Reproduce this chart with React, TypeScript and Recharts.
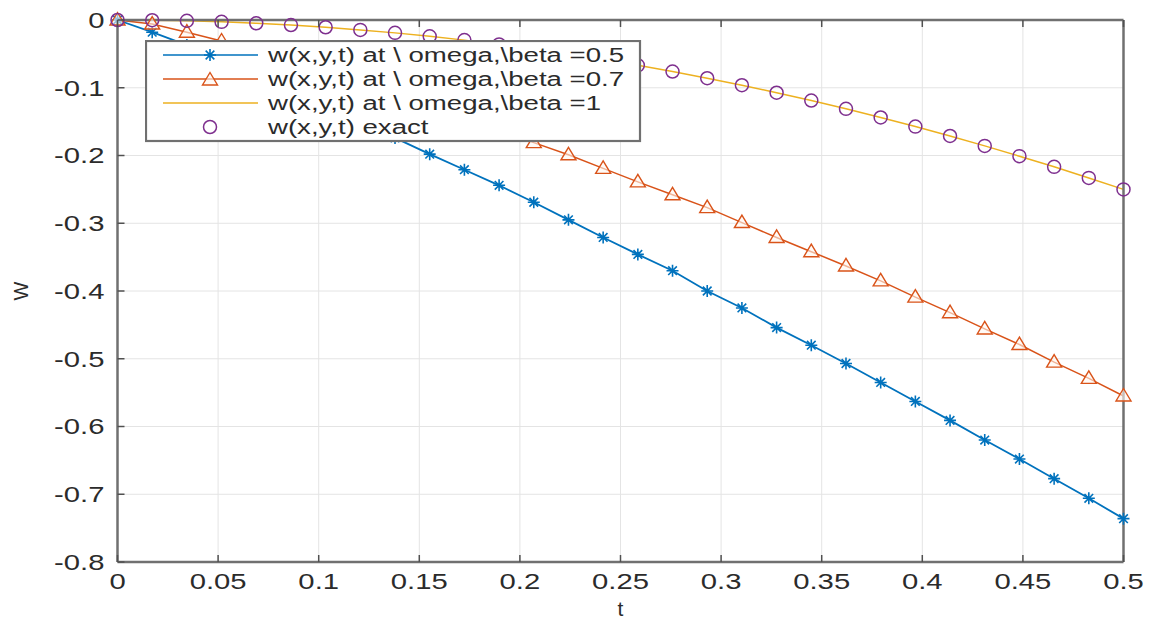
import { CartesianGrid, Legend, Line, LineChart, XAxis, YAxis } from "recharts";

// t = linspace(0, 0.5, 30)
const tValues = [
  0, 0.01724, 0.03448, 0.05172, 0.06897, 0.08621, 0.10345, 0.12069, 0.13793, 0.15517,
  0.17241, 0.18966, 0.2069, 0.22414, 0.24138, 0.25862, 0.27586, 0.2931, 0.31034, 0.32759,
  0.34483, 0.36207, 0.37931, 0.39655, 0.41379, 0.43103, 0.44828, 0.46552, 0.48276, 0.5,
];

const wBeta05 = [
  0, -0.018, -0.037, -0.058, -0.08, -0.103, -0.126, -0.15, -0.174, -0.198,
  -0.221, -0.244, -0.269, -0.295, -0.321, -0.346, -0.37, -0.4, -0.425, -0.454,
  -0.48, -0.507, -0.535, -0.563, -0.591, -0.62, -0.648, -0.677, -0.706, -0.736,
];

const wBeta07 = [
  0, -0.006, -0.018, -0.031, -0.044, -0.059, -0.074, -0.09, -0.107, -0.125,
  -0.143, -0.161, -0.181, -0.199, -0.219, -0.239, -0.258, -0.277, -0.299, -0.321,
  -0.342, -0.363, -0.385, -0.409, -0.432, -0.456, -0.479, -0.505, -0.529, -0.555,
];

const wBeta1 = [
  0, -0.0003, -0.0012, -0.0027, -0.0048, -0.0074, -0.0107, -0.0146, -0.019, -0.0241,
  -0.0297, -0.036, -0.0428, -0.0502, -0.0583, -0.0669, -0.0761, -0.0859, -0.0963, -0.1073,
  -0.1189, -0.1311, -0.1439, -0.1573, -0.1712, -0.1858, -0.201, -0.2167, -0.2331, -0.25,
];

const wExact = [
  0, -0.0003, -0.0012, -0.0027, -0.0048, -0.0074, -0.0107, -0.0146, -0.019, -0.0241,
  -0.0297, -0.036, -0.0428, -0.0502, -0.0583, -0.0669, -0.0761, -0.0859, -0.0963, -0.1073,
  -0.1189, -0.1311, -0.1439, -0.1573, -0.1712, -0.1858, -0.201, -0.2167, -0.2331, -0.25,
];

const xTicks = [0, 0.05, 0.1, 0.15, 0.2, 0.25, 0.3, 0.35, 0.4, 0.45, 0.5];
const yTicks = [-0.8, -0.7, -0.6, -0.5, -0.4, -0.3, -0.2, -0.1, 0];

const seriesNames = [
  "w(x,y,t) at \\ omega,\\beta =0.5",
  "w(x,y,t) at \\ omega,\\beta =0.7",
  "w(x,y,t) at \\ omega,\\beta =1",
  "w(x,y,t) exact",
];

const data = tValues.map((t, i) => ({
  t,
  b05: wBeta05[i],
  b07: wBeta07[i],
  b1: wBeta1[i],
  exact: wExact[i],
}));

const BLUE = "#0072BD";
const ORANGE = "#D95319";
const YELLOW = "#EDB120";
const PURPLE = "#7E2F8E";
const FONT = "'Liberation Sans', Arial, Helvetica, sans-serif";
const AXIS = "#707070";
const TICK = "#505050";
const TEXT = "#2b2b2b";

function Star({ cx, cy, color }: { cx: number; cy: number; color: string }) {
  const r = 6;
  const d = r * 0.72;
  return (
    <path
      d={`M${cx - r},${cy}H${cx + r}M${cx},${cy - r}V${cy + r}M${cx - d},${cy - d}L${cx + d},${cy + d}M${cx - d},${cy + d}L${cx + d},${cy - d}`}
      stroke={color}
      strokeWidth={1.6}
      fill="none"
    />
  );
}

function Triangle({ cx, cy, color }: { cx: number; cy: number; color: string }) {
  return (
    <polygon
      points={`${cx},${cy - 7.5} ${cx - 7.5},${cy + 5} ${cx + 7.5},${cy + 5}`}
      stroke={color}
      strokeWidth={1.4}
      fill="#fff6f0"
      fillOpacity={0.6}
    />
  );
}

function Ring({ cx, cy, color }: { cx: number; cy: number; color: string }) {
  return <circle cx={cx} cy={cy} r={6.5} stroke={color} strokeWidth={1.5} fill="none" />;
}

const bottomTick = (props: any) => {
  const { x, y, payload } = props;
  return (
    <g>
      <line x1={x} x2={x} y1={y} y2={y - 7} stroke={TICK} strokeWidth={1.5} />
      <text
        transform={`translate(${x},${y + 27}) scale(1.33,1)`}
        textAnchor="middle"
        fontSize={22}
        fontFamily={FONT}
        fill={TEXT}
      >
        {String(payload.value)}
      </text>
    </g>
  );
};

const topTick = (props: any) => {
  const { x, y } = props;
  return <line x1={x} x2={x} y1={y} y2={y + 7} stroke={TICK} strokeWidth={1.5} />;
};

const leftTick = (props: any) => {
  const { x, y, payload } = props;
  return (
    <g>
      <line x1={x} x2={x + 7} y1={y} y2={y} stroke={TICK} strokeWidth={1.5} />
      <text
        transform={`translate(${x - 13},${y}) scale(1.33,1)`}
        textAnchor="end"
        dy="0.36em"
        fontSize={22}
        fontFamily={FONT}
        fill={TEXT}
      >
        {String(payload.value)}
      </text>
    </g>
  );
};

const rightTick = (props: any) => {
  const { x, y } = props;
  return <line x1={x} x2={x - 7} y1={y} y2={y} stroke={TICK} strokeWidth={1.5} />;
};

const yLabel = (props: any) => {
  const vb = props.viewBox;
  const cy = vb.y + vb.height / 2;
  return (
    <text
      transform={`translate(21,${cy}) rotate(-90)`}
      textAnchor="middle"
      dy="0.35em"
      fontSize={20}
      fontFamily={FONT}
      fill={TEXT}
    >
      W
    </text>
  );
};

const xLabel = (props: any) => {
  const vb = props.viewBox;
  return (
    <text
      x={vb.x + vb.width / 2}
      y={vb.y + 54}
      textAnchor="middle"
      fontSize={21}
      fontFamily={FONT}
      fill={TEXT}
    >
      t
    </text>
  );
};

const markerFor: Record<string, "star" | "tri" | "none" | "ring"> = {
  b05: "star",
  b07: "tri",
  b1: "none",
  exact: "ring",
};

const renderLegend = (props: any) => {
  const items = props.payload || [];
  return (
    <svg width={497} height={103} style={{ display: "block" }}>
      <rect x={1} y={1} width={494} height={100} fill="#fff" stroke={AXIS} strokeWidth={2.2} />
      {items.map((item: any, i: number) => {
        const key = item.dataKey as string;
        const cy = 15 + i * 24;
        const marker = markerFor[key];
        const color = item.color;
        return (
          <g key={key}>
            {marker !== "ring" && (
              <line x1={18} x2={113} y1={cy} y2={cy} stroke={color} strokeWidth={1.6} />
            )}
            {marker === "star" && <Star cx={65} cy={cy} color={color} />}
            {marker === "tri" && <Triangle cx={65} cy={cy + 1} color={color} />}
            {marker === "ring" && <Ring cx={65} cy={cy} color={PURPLE} />}
            <text
              transform={`translate(123,${cy}) scale(1.38,1)`}
              dy="0.36em"
              fontSize={20}
              fontFamily={FONT}
              fill={TEXT}
            >
              {item.value}
            </text>
          </g>
        );
      })}
    </svg>
  );
};

export default function App() {
  return (
    <div style={{ position: "absolute", left: 0, top: 0, background: "#fff" }}>
      <LineChart
        width={1158}
        height={621}
        data={data}
        margin={{ top: 19, right: 33.5, bottom: 0, left: 0 }}
      >
        <CartesianGrid stroke="#e4e4e4" strokeWidth={1} />
        <XAxis
          dataKey="t"
          type="number"
          domain={[0, 0.5]}
          ticks={xTicks}
          interval={0}
          height={59}
          tickSize={0}
          tickMargin={0}
          tickLine={false}
          axisLine={{ stroke: AXIS, strokeWidth: 2.5 }}
          tick={bottomTick}
          label={{ value: "t", content: xLabel }}
        />
        <XAxis
          xAxisId="top"
          orientation="top"
          dataKey="t"
          type="number"
          domain={[0, 0.5]}
          ticks={xTicks}
          interval={0}
          height={1}
          tickSize={0}
          tickMargin={0}
          tickLine={false}
          axisLine={{ stroke: AXIS, strokeWidth: 2.5 }}
          tick={topTick}
        />
        <YAxis
          type="number"
          domain={[-0.8, 0]}
          ticks={yTicks}
          interval={0}
          width={117.5}
          tickSize={0}
          tickMargin={0}
          tickLine={false}
          axisLine={{ stroke: AXIS, strokeWidth: 2.5 }}
          tick={leftTick}
          label={{ value: "W", content: yLabel }}
        />
        <YAxis
          yAxisId="right"
          orientation="right"
          type="number"
          domain={[-0.8, 0]}
          ticks={yTicks}
          interval={0}
          width={1}
          tickSize={0}
          tickMargin={0}
          tickLine={false}
          axisLine={{ stroke: AXIS, strokeWidth: 2.5 }}
          tick={rightTick}
        />
        <Line
          dataKey="b05"
          name={seriesNames[0]}
          stroke={BLUE}
          strokeWidth={1.8}
          isAnimationActive={false}
          activeDot={false}
          dot={(p: any) => <Star key={`s${p.index}`} cx={p.cx} cy={p.cy} color={BLUE} />}
        />
        <Line
          dataKey="b07"
          name={seriesNames[1]}
          stroke={ORANGE}
          strokeWidth={1.5}
          isAnimationActive={false}
          activeDot={false}
          dot={(p: any) => <Triangle key={`t${p.index}`} cx={p.cx} cy={p.cy} color={ORANGE} />}
        />
        <Line
          dataKey="b1"
          name={seriesNames[2]}
          stroke={YELLOW}
          strokeWidth={1.5}
          isAnimationActive={false}
          activeDot={false}
          dot={false}
        />
        <Line
          dataKey="exact"
          name={seriesNames[3]}
          stroke="none"
          isAnimationActive={false}
          activeDot={false}
          dot={(p: any) => <Ring key={`r${p.index}`} cx={p.cx} cy={p.cy} color={PURPLE} />}
        />
        <Legend
          layout="vertical"
          align="center"
          verticalAlign="middle"
          wrapperStyle={{ left: 145, top: 40, width: 497, height: 103 }}
          content={renderLegend}
        />
      </LineChart>
    </div>
  );
}
